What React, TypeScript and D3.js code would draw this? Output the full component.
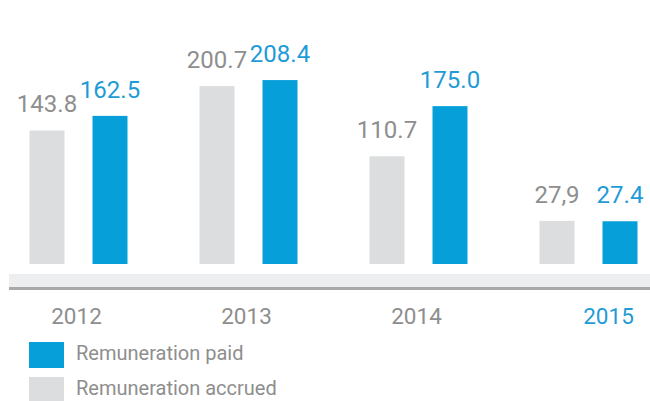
import React from "react";
import * as d3 from "d3";

const years = ["2012", "2013", "2014", "2015"];
const accrued = [143.8, 200.7, 110.7, 27.9];
const paid = [162.5, 208.4, 175.0, 27.4];
const accruedLabels = ["143.8", "200.7", "110.7", "27,9"];
const paidLabels = ["162.5", "208.4", "175.0", "27.4"];
const seriesKeys = ["accrued", "paid"];
const legendItems = [
  { key: "paid", label: "Remuneration paid" },
  { key: "accrued", label: "Remuneration accrued" },
];

const W = 650;
const H = 401;
const BLUE = "#079fd9";
const BLUE_TEXT = "#1f9bd6";
const GREY_BAR = "#dcdddf";
const GREY_TEXT = "#8e8e8e";
const FONT = "Roboto, 'DejaVu Sans', sans-serif";

export default function App() {
  const baseline = 264;
  const x = d3.scaleBand<string>().domain(years).range([-6.5, 673.5]).padding(0);
  const inner = d3
    .scaleBand<string>()
    .domain(seriesKeys)
    .range([-49, 49])
    .paddingInner(28 / 63)
    .paddingOuter(0);
  const y = d3.scaleLinear().domain([-27.4, 250]).range([baseline, baseline - 0.78 * 277.4]);

  const color = (k: string) => (k === "paid" ? BLUE : GREY_BAR);
  const textColor = (k: string) => (k === "paid" ? BLUE_TEXT : GREY_TEXT);

  const rows = years.map((yr, i) => ({
    year: yr,
    values: [
      { key: "accrued", value: accrued[i], label: accruedLabels[i] },
      { key: "paid", value: paid[i], label: paidLabels[i] },
    ],
  }));

  return (
    <svg
      width={W}
      height={H}
      style={{ position: "absolute", left: 0, top: 0, background: "#fff" }}
      fontFamily={FONT}
    >
      <rect x={0} y={0} width={W} height={H} fill="#fff" />
      {rows.map((r) => {
        const cx = (x(r.year) ?? 0) + x.bandwidth() / 2;
        return (
          <g key={r.year} transform={`translate(${cx},0)`}>
            {r.values.map((v) => {
              const bx = inner(v.key) ?? 0;
              const top = y(v.value);
              return (
                <g key={v.key}>
                  <rect
                    x={bx}
                    y={top}
                    width={inner.bandwidth()}
                    height={baseline - top}
                    fill={color(v.key)}
                  />
                  <text
                    x={bx + inner.bandwidth() / 2}
                    y={top - 18}
                    textAnchor="middle"
                    fontSize={24}
                    fill={textColor(v.key)}
                  >
                    {v.label}
                  </text>
                </g>
              );
            })}
          </g>
        );
      })}
      <rect x={9} y={274} width={W - 9} height={13} fill="#eceef0" />
      <rect x={9} y={287} width={W - 9} height={3} fill="#a9a9a9" />
      {years.map((yr, i) => {
        const cx = (x(yr) ?? 0) + x.bandwidth() / 2;
        const last = i === years.length - 1;
        return (
          <text
            key={yr}
            x={cx + (last ? 20 : -2)}
            y={324}
            textAnchor="middle"
            fontSize={22.5}
            fill={last ? BLUE_TEXT : GREY_TEXT}
          >
            {yr}
          </text>
        );
      })}
      {legendItems.map((it, i) => (
        <g key={it.key} transform={`translate(29,${342 + i * 35})`}>
          <rect x={0} y={0} width={35} height={26} fill={color(it.key)} />
          <text x={47} y={18} fontSize={20} fill={GREY_TEXT}>
            {it.label}
          </text>
        </g>
      ))}
    </svg>
  );
}
